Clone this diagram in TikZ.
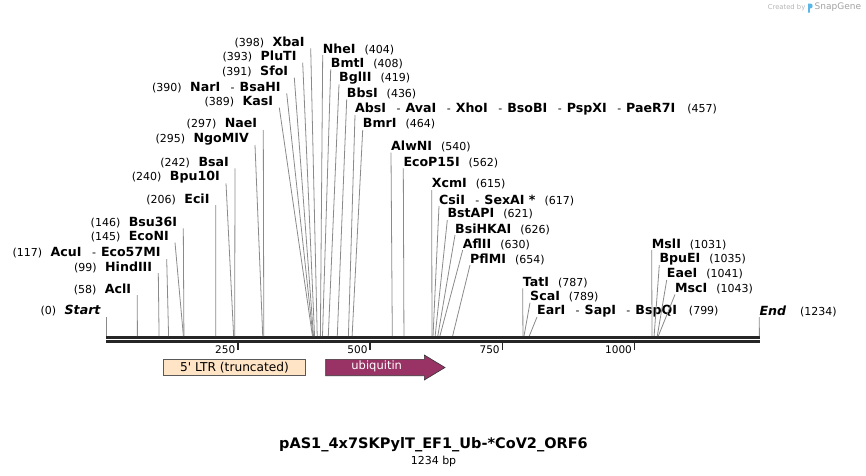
\documentclass[tikz,border=0pt]{standalone}
\usepackage{fontspec}
\setmainfont{DejaVu Sans}
\usepackage{tikz}
\usetikzlibrary{positioning}
\definecolor{mapline}{HTML}{262626}
\definecolor{siteline}{HTML}{8A8A8A}
\definecolor{ltrfill}{HTML}{FFE4C6}
\definecolor{ubqfill}{HTML}{993366}
\definecolor{logogray}{HTML}{B4B4B4}
\definecolor{logoblue}{HTML}{5AB6E6}
% label text
\newcommand{\cutpos}[1]{{\fontsize{11}{13}\selectfont(#1)}}
\newcommand{\cutname}[1]{{\fontsize{12.6}{14}\selectfont\bfseries #1}}
\newcommand{\cutsep}{{\fontsize{11}{13}\selectfont\mdseries\hspace{10.5pt}-\hspace{5pt}}}
\newcommand{\leftcut}[2]{\cutpos{#1}\hspace{8.5pt}\cutname{#2}}
\newcommand{\rightcut}[2]{\cutname{#1}\hspace{9pt}\cutpos{#2}}
\tikzset{
  site/.style={draw=siteline, line width=0.8pt},
  cutL/.style={anchor=east, inner sep=0pt},
  cutR/.style={anchor=west, inner sep=0pt},
  tickmark/.style={draw=mapline, line width=1.4pt}
}

\begin{document}
\begin{tikzpicture}[x=1pt, y=-1pt]
    % Define styles
    \tikzstyle{mapbar} = [draw=mapline, line width=2.7pt]
    \tikzstyle{ticklabel} = [anchor=east, inner sep=0pt, font=\fontsize{10.5}{12}\selectfont]
    \useasboundingbox (0,0) rectangle (866,475);

    % Map
    \draw[mapbar] (106,337.3) -- (760,337.3);
    \draw[mapbar] (106,341.3) -- (760,341.3);
    \foreach \t in {250,500,750,1000} {
        \coordinate (t\t) at ({105.7+0.5289*\t},343.3);
        \draw[tickmark] (t\t) -- ++(0,6.3);
        \node[ticklabel] (tl\t) at ([xshift=-2.5pt,yshift=-6.3pt]t\t) {\t};
    }

    % Cut sites on the map
    \foreach \n/\b in {start/0, acl/58, hind/99, acu/117, econ/145, bsu/146,
        eci/206, bputen/240, bsa/242, ngo/295, nae/297, kas/389, nar/390,
        sfo/391, plu/393, xba/398, nhe/404, bmt/408, bgl/419, bbs/436,
        abs/457, bmr/464, alw/540, ecop/562, xcm/615, csi/617, bstap/621,
        bsih/626, afl/630, pfl/654, tat/787, sca/789, ear/799, msl/1031,
        bpue/1035, eae/1041, msc/1043, end/1234}
        \coordinate (s\n) at ({106.7+0.5289*\b},336);

    % Place nodes (left)
    \node[cutL] (start) at (100.7,311) {\cutpos{0}\hspace{8.5pt}\cutname{\itshape Start}};
    \node[cutL] (acl) at (131.3,289) {\leftcut{58}{AclI}};
    \node[cutL] (hind) at (152.3,267) {\leftcut{99}{HindIII}};
    \node[cutL] (acu) at (160.7,253) {\leftcut{117}{AcuI\cutsep Eco57MI}};
    \node[cutL] (econ) at (169,236.5) {\leftcut{145}{EcoNI}};
    \node[cutL] (bsu) at (177.3,222.3) {\leftcut{146}{Bsu36I}};
    \node[cutL] (eci) at (209.7,199) {\leftcut{206}{EciI}};
    \node[cutL] (bputen) at (220,177.3) {\leftcut{240}{Bpu10I}};
    \node[cutL] (bsa) at (229,162.3) {\leftcut{242}{BsaI}};
    \node[cutL] (ngo) at (249,139) {\leftcut{295}{NgoMIV}};
    \node[cutL] (nae) at (257.3,124) {\leftcut{297}{NaeI}};
    \node[cutL] (kas) at (273.3,101.7) {\leftcut{389}{KasI}};
    \node[cutL] (nar) at (280.7,87.3) {\leftcut{390}{NarI\cutsep BsaHI}};
    \node[cutL] (sfo) at (288.3,71.7) {\leftcut{391}{SfoI}};
    \node[cutL] (plu) at (296.7,56.7) {\leftcut{393}{PluTI}};
    \node[cutL] (xba) at (304.7,42.3) {\leftcut{398}{XbaI}};

    % Place nodes (right)
    \node[cutR] (nhe) at (322.7,49) {\rightcut{NheI}{404}};
    \node[cutR] (bmt) at (330.7,63.3) {\rightcut{BmtI}{408}};
    \node[cutR] (bgl) at (339,78.3) {\rightcut{BglII}{419}};
    \node[cutR] (bbs) at (346.7,93.3) {\rightcut{BbsI}{436}};
    \node[cutR] (abs) at (355,109) {\cutname{AbsI\cutsep AvaI\cutsep XhoI\cutsep BsoBI\cutsep PspXI\cutsep PaeR7I}\hspace{12pt}\cutpos{457}};
    \node[cutR] (bmr) at (362.7,124) {\rightcut{BmrI}{464}};
    \node[cutR] (alw) at (391,146.7) {\rightcut{AlwNI}{540}};
    \node[cutR] (ecop) at (403.3,162.3) {\rightcut{EcoP15I}{562}};
    \node[cutR] (xcm) at (431.7,184) {\rightcut{XcmI}{615}};
    \node[cutR] (csi) at (439,200) {\rightcut{CsiI\cutsep SexAI *}{617}};
    \node[cutR] (bstap) at (447.3,214) {\rightcut{BstAPI}{621}};
    \node[cutR] (bsih) at (455,229) {\rightcut{BsiHKAI}{626}};
    \node[cutR] (afl) at (462.7,244) {\rightcut{AflII}{630}};
    \node[cutR] (pfl) at (470,259) {\rightcut{PflMI}{654}};
    \node[cutR] (tat) at (522.7,282.3) {\rightcut{TatI}{787}};
    \node[cutR] (sca) at (530,296.7) {\rightcut{ScaI}{789}};
    \node[cutR] (ear) at (537,311) {\cutname{EarI\cutsep SapI\cutsep BspQI}\hspace{12pt}\cutpos{799}};
    \node[cutR] (msl) at (651.7,244) {\rightcut{MslI}{1031}};
    \node[cutR] (bpue) at (659.3,259) {\rightcut{BpuEI}{1035}};
    \node[cutR] (eae) at (666.7,274) {\rightcut{EaeI}{1041}};
    \node[cutR] (msc) at (675,288.5) {\rightcut{MscI}{1043}};
    \node[cutR] (end) at (759.3,311) {\cutname{\itshape End}\hspace{14pt}\cutpos{1234}};

    % Draw edges
    \foreach \n in {start,acl,hind,acu,econ,bsu,eci,bputen,bsa,ngo,nae,kas,nar,sfo,plu,xba}
        \draw[site] ([shift={(6pt,-6pt)}]\n.east) -- (s\n);
    \foreach \n in {nhe,bmt,bgl,bbs,abs,bmr,alw,ecop,xcm,csi,bstap,bsih,afl,pfl,tat,sca,ear,msl,bpue,eae,msc,end}
        \draw[site] ([shift={(0pt,-6pt)}]\n.west) -- (s\n);

    % Features
    \node[draw=black!65, fill=ltrfill, line width=0.6pt, minimum width=142.4pt, minimum height=15.7pt,
        inner sep=0pt, font=\fontsize{12.2}{13}\selectfont] (ltr) at (234.5,367.2) {5\textquotesingle{} LTR (truncated)};
    \filldraw[fill=ubqfill, draw=black!80, line width=0.6pt] (325.7,359.3) -- (424.3,359.3) -- (424.3,355)
        -- (445,367.5) -- (424.3,380) -- (424.3,375.7) -- (325.7,375.7) -- cycle;
    \node[text=white, inner sep=0pt, font=\fontsize{11.5}{13}\selectfont] (ubq) at (376.7,366.8) {ubiquitin};

    % Title
    \node[anchor=base, inner sep=0pt] (title) at (433.5,448) {\fontsize{14.5}{16}\selectfont\bfseries pAS1\_4x7SKPylT\_EF1\_Ub-*CoV2\_ORF6};
    \node[anchor=base, inner sep=0pt] (size) at (433.5,464) {\fontsize{11}{13}\selectfont 1234 bp};

    % Created by SnapGene
    \node[text=logogray, inner sep=0pt, anchor=east, font=\fontsize{6.8}{8}\selectfont] (made) at (805.5,7.5) {Created by};
    \fill[logoblue] (808,12.7) -- (808,3.5) -- (810.8,3.5) .. controls (813.2,3.5) and (813.2,8.4) .. (810.8,8.4)
        -- (809.9,8.4) -- (809.9,12.7) -- cycle;
    \node[text=logogray!90!black, inner sep=0pt, anchor=west, font=\fontsize{9}{10}\selectfont] (snap) at (814.5,7.5) {SnapGene};
\end{tikzpicture}
\end{document}
